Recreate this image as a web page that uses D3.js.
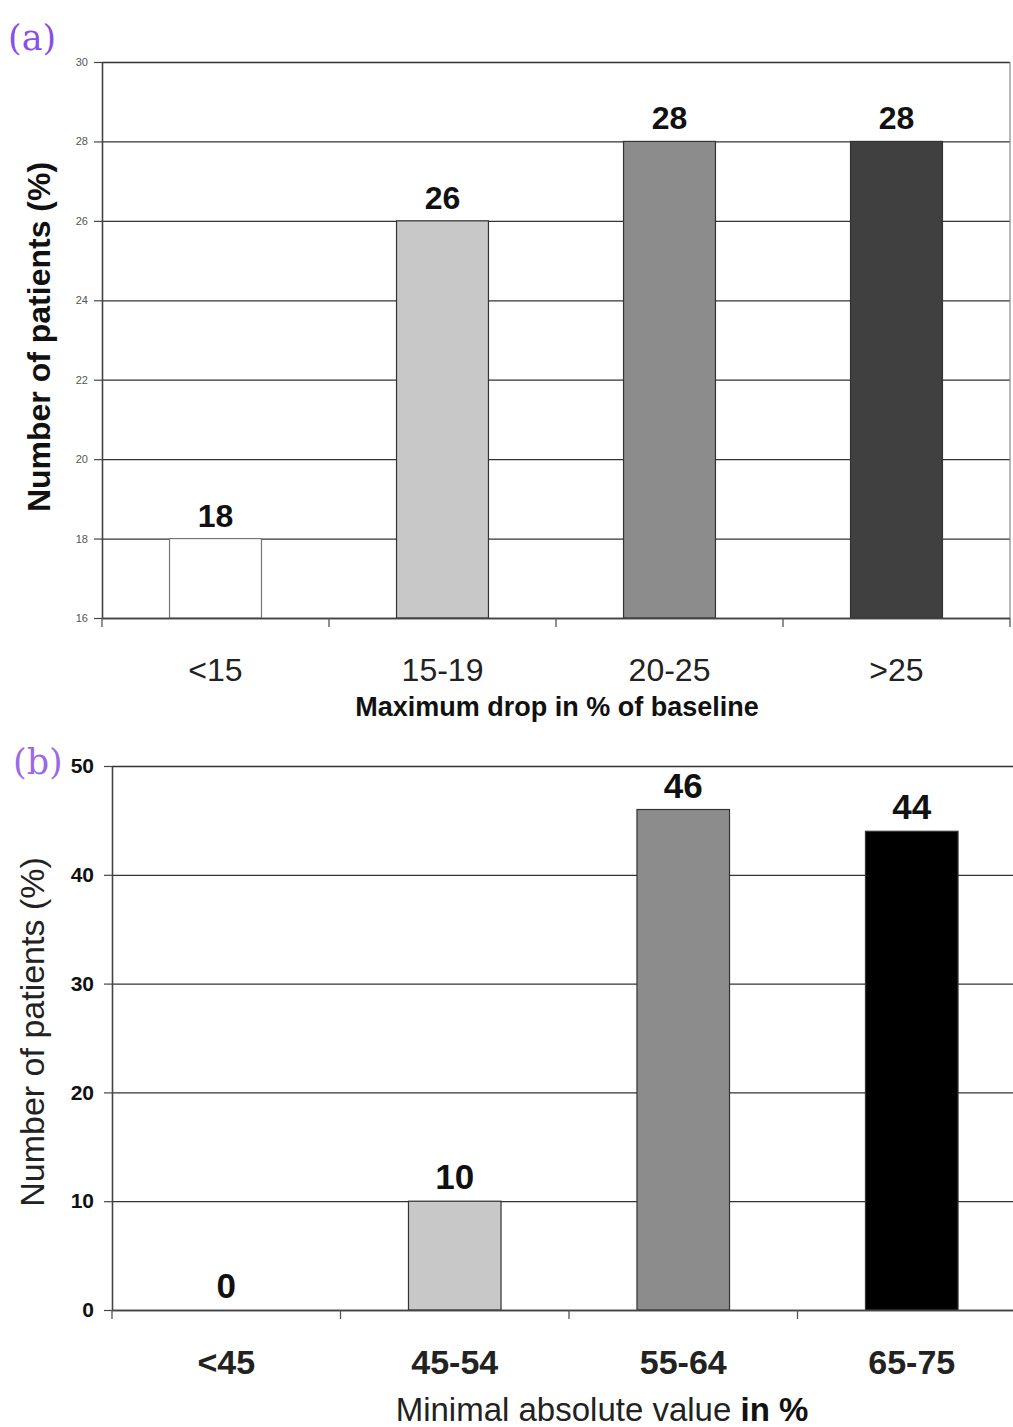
<!DOCTYPE html>
<html>
<head>
<meta charset="utf-8">
<script src="https://cdn.jsdelivr.net/npm/d3@7"></script>
<style>
  body { margin: 0; background: #fff; }
  svg { display: block; font-family: 'Liberation Sans', Arial, sans-serif; }
</style>
</head>
<body>
<svg id="chart" width="1013" height="1427"></svg>
<script>
// panel (a) data
const catsA = ['<15', '15-19', '20-25', '>25']
const valsA = [18, 26, 28, 28]
const ticksA = [16, 18, 20, 22, 24, 26, 28, 30]

// panel (b) data
const catsB = ['<45', '45-54', '55-64', '65-75']
const valsB = [0, 10, 46, 44]
const ticksB = [0, 10, 20, 30, 40, 50]

const fillsA = ['#ffffff', '#c8c8c8', '#8c8c8c', '#404040']
const fillsB = ['#ffffff', '#c8c8c8', '#8c8c8c', '#000000']

const svg = d3.select('#chart')

function panel(cfg) {
  const x = d3.scaleBand().domain(cfg.cats).range([cfg.left, cfg.right]).paddingInner(0).paddingOuter(0)
  const y = d3.scaleLinear().domain(cfg.domain).range([cfg.bottom, cfg.top])
  const g = svg.append('g')

  // gridlines
  g.selectAll('.grid')
    .data(cfg.ticks)
    .enter()
    .append('line')
    .attr('x1', cfg.left)
    .attr('x2', cfg.gridRight)
    .attr('y1', (d) => y(d) + 0.5)
    .attr('y2', (d) => y(d) + 0.5)
    .style('stroke', '#333')
    .style('stroke-width', 1.3)

  // right border (panel a only)
  if (cfg.rightBorder) {
    g.append('line')
      .attr('x1', cfg.gridRight).attr('x2', cfg.gridRight)
      .attr('y1', cfg.top).attr('y2', cfg.bottom)
      .style('stroke', '#888').style('stroke-width', 1.2)
  }

  // bars
  const bw = x.bandwidth() * 0.405
  g.selectAll('.bar')
    .data(cfg.vals)
    .enter()
    .append('rect')
    .attr('x', (d, i) => x(cfg.cats[i]) + x.bandwidth() / 2 - bw / 2)
    .attr('y', (d) => y(d))
    .attr('width', bw)
    .attr('height', (d) => y(cfg.domain[0]) - y(d))
    .style('fill', (d, i) => cfg.fills[i])
    .style('stroke', (d, i) => (i === 0 ? '#777' : '#333'))
    .style('stroke-width', 1.2)

  // value labels
  g.selectAll('.val')
    .data(cfg.vals)
    .enter()
    .append('text')
    .attr('x', (d, i) => x(cfg.cats[i]) + x.bandwidth() / 2)
    .attr('y', (d) => y(d) - cfg.valGap)
    .attr('text-anchor', 'middle')
    .style('font-weight', 'bold')
    .style('font-size', cfg.valSize + 'px')
    .style('fill', '#111')
    .text((d) => d)

  // y axis
  const ya = g.append('g')
    .attr('transform', `translate(${cfg.left},0)`)
    .call(d3.axisLeft(y).tickValues(cfg.ticks).tickSize(8).tickPadding(cfg.yPad).tickSizeOuter(0))
  ya.select('.domain').style('stroke', '#444').style('stroke-width', 1.6)
  ya.selectAll('.tick line').style('stroke', '#444').style('stroke-width', 1.2)
  ya.selectAll('.tick text')
    .style('font-size', cfg.yTickSize + 'px')
    .style('font-weight', cfg.yTickWeight)
    .style('fill', cfg.yTickColor)
    .style('font-family', "'Liberation Sans', Arial, sans-serif")

  // x axis
  const xa = g.append('g')
    .attr('transform', `translate(0,${cfg.bottom})`)
    .call(d3.axisBottom(x).tickSize(0).tickPadding(cfg.xPad))
  xa.select('.domain').remove()
  g.append('line')
    .attr('x1', cfg.left).attr('x2', cfg.gridRight)
    .attr('y1', cfg.bottom + 0.5).attr('y2', cfg.bottom + 0.5)
    .style('stroke', '#444').style('stroke-width', 1.6)
  xa.selectAll('.tick text')
    .style('font-size', cfg.xTickSize + 'px')
    .style('font-weight', cfg.xTickWeight)
    .style('fill', '#222')
    .style('font-family', "'Liberation Sans', Arial, sans-serif")

  // category separator ticks on x axis
  g.selectAll('.sep')
    .data(d3.range(cfg.cats.length + 1))
    .enter()
    .append('line')
    .attr('x1', (i) => cfg.left + i * x.bandwidth())
    .attr('x2', (i) => cfg.left + i * x.bandwidth())
    .attr('y1', cfg.bottom)
    .attr('y2', cfg.bottom + 9)
    .style('stroke', '#555')
    .style('stroke-width', 1.3)

  // panel letter
  g.append('text')
    .attr('x', cfg.letterX)
    .attr('y', cfg.letterY)
    .style('font-family', "'DejaVu Serif', serif")
    .style('font-size', '35px')
    .style('fill', cfg.letterColor)
    .text(cfg.letter)

  return { g, x, y }
}

// panel (a)
const a = panel({
  cats: catsA, vals: valsA, ticks: ticksA, fills: fillsA,
  domain: [16, 30], left: 102, right: 1010, gridRight: 1010, top: 62, bottom: 618,
  rightBorder: true, valGap: 12, valSize: 32,
  yPad: 6, yTickSize: 11, yTickWeight: 'normal', yTickColor: '#555',
  xPad: 40, xTickSize: 32, xTickWeight: 'normal',
  letter: '(a)', letterX: 8, letterY: 50, letterColor: '#8a4fe6'
})

a.g.append('text')
  .attr('transform', 'translate(50,337) rotate(-90)')
  .attr('text-anchor', 'middle')
  .style('font-weight', 'bold')
  .style('font-size', '32px')
  .style('fill', '#111')
  .text('Number of patients (%)')

a.g.append('text')
  .attr('x', 557)
  .attr('y', 716)
  .attr('text-anchor', 'middle')
  .style('font-weight', 'bold')
  .style('font-size', '27px')
  .style('fill', '#111')
  .text('Maximum drop in % of baseline')

// panel (b)
const b = panel({
  cats: catsB, vals: valsB, ticks: ticksB, fills: fillsB,
  domain: [0, 50], left: 112, right: 1026, gridRight: 1013, top: 766, bottom: 1310,
  rightBorder: false, valGap: 12, valSize: 35,
  yPad: 10, yTickSize: 21, yTickWeight: 'bold', yTickColor: '#111',
  xPad: 40, xTickSize: 34, xTickWeight: 'bold',
  letter: '(b)', letterX: 13, letterY: 774, letterColor: '#9a6ae6'
})

b.g.append('text')
  .attr('transform', 'translate(44,1032) rotate(-90)')
  .attr('text-anchor', 'middle')
  .style('font-size', '34px')
  .style('fill', '#222')
  .text('Number of patients (%)')

const xt = b.g.append('text')
  .attr('x', 602)
  .attr('y', 1421)
  .attr('text-anchor', 'middle')
  .style('font-size', '33px')
  .style('fill', '#222')
xt.append('tspan').text('Minimal absolute value ')
xt.append('tspan').style('font-weight', 'bold').style('fill', '#111').text('in %')
</script>
</body>
</html>
